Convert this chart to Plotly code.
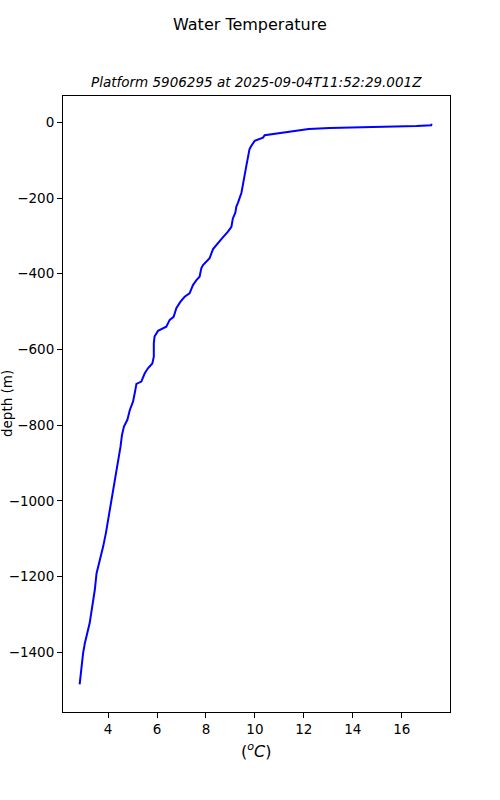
import plotly.graph_objects as go

# Temperature (°C) and depth (m) of the profile
temperature = [17.22, 17.20, 16.60, 14.40, 13.05, 12.20, 11.70, 11.00, 10.40, 10.33,
               10.12, 9.99, 9.85, 9.78, 9.65, 9.55, 9.45, 9.31, 9.24, 9.20,
               9.10, 9.04, 8.90, 8.69, 8.49, 8.29, 8.15, 8.08, 7.88, 7.81,
               7.74, 7.61, 7.47, 7.33, 7.13, 6.96, 6.79, 6.68, 6.52, 6.38,
               6.18, 6.04, 5.90, 5.87, 5.87, 5.81, 5.63, 5.50, 5.36, 5.16,
               5.09, 5.02, 4.89, 4.79, 4.65, 4.57, 4.51, 4.41, 4.31, 4.23,
               4.14, 3.91, 3.80, 3.66, 3.53, 3.46, 3.32, 3.25, 3.05, 2.98, 2.84]
depth = [-3.7, -8, -9.8, -12.4, -15, -17.7, -22, -27.4, -34, -40.6,
         -46, -49, -62.6, -71, -115, -152, -186, -212, -223, -239,
         -254, -276, -289, -304, -320, -335, -359, -363, -377, -386,
         -408, -417, -430, -452, -461, -474, -491, -514, -522, -540,
         -547, -551, -566, -584, -619, -637, -650, -663, -685, -691,
         -716, -738, -760, -786, -804, -826, -857, -896, -931, -958,
         -1002, -1086, -1121, -1156, -1192, -1235, -1289, -1323, -1377, -1403, -1485]

x_ticks = [4, 6, 8, 10, 12, 14, 16]
y_ticks = [0, -200, -400, -600, -800, -1000, -1200, -1400]

title = "Water Temperature"
subtitle = "Platform 5906295 at 2025-09-04T11:52:29.001Z"

FONT = "DejaVu Sans"

W, H = 500, 800
L, R, T, B = 63, 50, 96, 88
PW, PH = W - L - R, H - T - B

fig = go.Figure()
fig.add_trace(go.Scatter(x=temperature, y=depth, mode="lines",
                         line=dict(color="#0000ff", width=2), showlegend=False))

axis_common = dict(showgrid=False, zeroline=False, showline=True, linecolor="black",
                   linewidth=1, mirror=True, ticks="outside", ticklen=5, tickwidth=1,
                   tickcolor="black", automargin=False,
                   tickfont=dict(family=FONT, size=13.5, color="black"))

fig.update_xaxes(range=[2.16, 17.97], tickvals=x_ticks,
                 ticktext=[str(v) for v in x_ticks], **axis_common)
fig.update_yaxes(range=[-1558, 69.5], tickvals=y_ticks,
                 ticktext=[("\u2212" + str(-v)) if v < 0 else str(v) for v in y_ticks],
                 **axis_common)

title_x = (250 - L) / PW
title_y = (H - B - 24) / PH

fig.update_layout(
    width=W, height=H,
    margin=dict(l=L, r=R, t=T, b=B, autoexpand=False),
    paper_bgcolor="white", plot_bgcolor="white",
    font=dict(family=FONT, color="black"),
    annotations=[
        dict(text=title, x=title_x, y=title_y, xref="paper", yref="paper",
             xanchor="center", yanchor="middle", showarrow=False,
             font=dict(family=FONT, size=16, color="black")),
        dict(text="<i>" + subtitle + "</i>", x=0.5, y=1.0, xref="paper", yref="paper",
             xanchor="center", yanchor="bottom", yshift=4, showarrow=False,
             font=dict(family=FONT, size=13.5, color="black")),
        dict(text="(<sup><i>o</i></sup><i>C</i>)", x=0.5, y=0, xref="paper", yref="paper",
             xanchor="center", yanchor="top", yshift=-26, showarrow=False,
             font=dict(family=FONT, size=16, color="black")),
        dict(text="depth (m)", x=0, y=0.5, xref="paper", yref="paper",
             xanchor="right", yanchor="middle", xshift=-46, textangle=-90, showarrow=False,
             font=dict(family=FONT, size=13.5, color="black")),
    ],
)

fig.write_html("out.html", config={"displayModeBar": False},
               post_script="document.body.style.margin='0';")
